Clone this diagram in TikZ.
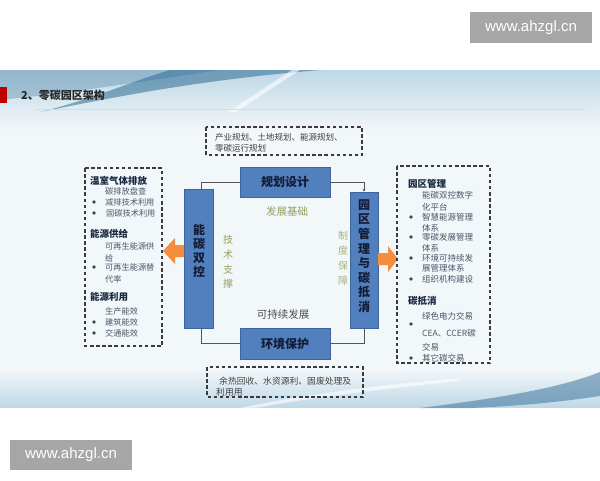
\documentclass[tikz,border=0pt]{standalone}
\usepackage{fontspec}
\setmainfont{Noto Sans CJK SC}
\newfontfamily\wmfont{Liberation Sans}
\usetikzlibrary{arrows.meta,fadings}
\definecolor{boxfill}{RGB}{82,127,190}
\definecolor{boxdraw}{RGB}{62,100,158}
\definecolor{boxtext}{RGB}{18,28,52}
\definecolor{olivec}{RGB}{150,158,92}
\definecolor{orng}{RGB}{244,142,62}
\definecolor{itemc}{RGB}{78,86,102}
\definecolor{headc}{RGB}{24,38,62}
\definecolor{dashc}{RGB}{58,58,64}
\definecolor{wmc}{RGB}{166,166,166}
\definecolor{slidebase}{RGB}{242,247,250}
\definecolor{bandlight}{RGB}{190,216,230}
\definecolor{banddark}{RGB}{48,108,150}
\definecolor{conn}{RGB}{85,85,90}
\tikzfading[name=fadedown,top color=transparent!0,bottom color=transparent!100]
\tikzfading[name=fadeup,top color=transparent!100,bottom color=transparent!0]
\tikzfading[name=faderight,left color=transparent!0,right color=transparent!100]
\begin{document}
\begin{tikzpicture}[x=1pt,y=-1pt,
  mainbox/.style={draw=boxdraw,fill=boxfill,text=boxtext,inner sep=0pt,line width=0.6pt,
    font=\bfseries\fontsize{12}{14}\selectfont},
  vtext/.style={text=boxtext,align=center,inner sep=0pt},
  olab/.style={text=olivec,inner sep=0pt,font=\fontsize{10.5}{12}\selectfont},
  dbox/.style={draw=dashc,line width=1.1pt,dash pattern=on 3.5pt off 2.6pt},
  ltxt/.style={anchor=west,inner sep=0pt,text=itemc,font=\fontsize{8.2}{9}\selectfont},
  rtxt/.style={anchor=west,inner sep=0pt,text=itemc,font=\fontsize{8.5}{10}\selectfont},
  ttxt/.style={anchor=west,inner sep=0pt,text=black!75,font=\fontsize{8.5}{9}\selectfont},
  hd/.style={anchor=west,inner sep=0pt,text=headc,font=\bfseries\fontsize{9.5}{11}\selectfont},
  dot/.style={fill=headc!85},
  connline/.style={draw=conn,line width=0.8pt},
  wmbox/.style={fill=wmc,text=white,inner sep=0pt,font=\wmfont\fontsize{15}{17}\selectfont}
]
\useasboundingbox (0,0) rectangle (600,480);
\fill[white] (0,0) rectangle (600,480);
% slide background
\fill[slidebase] (0,70) rectangle (600,408);
\fill[bandlight,path fading=fadedown] (0,70) rectangle (600,130);
\fill[banddark,opacity=0.55] (40,112) .. controls (120,96) and (200,80) .. (320,70) -- (170,70) .. controls (130,82) and (90,100) .. (40,112) -- cycle;
\fill[banddark,opacity=0.3] (0,100) .. controls (80,92) and (150,80) .. (220,70) -- (0,70) -- cycle;
\fill[white,opacity=0.6] (228,112) -- (292,70) -- (300,70) -- (236,112) -- cycle;
\fill[bandlight,path fading=fadeup] (0,370) rectangle (600,408);
\fill[banddark,opacity=0.5] (420,408) .. controls (500,398) and (560,388) .. (600,372) -- (600,396) .. controls (560,402) and (520,406) .. (470,408) -- cycle;
\fill[white,opacity=0.6] (240,408) .. controls (300,395) and (380,385) .. (460,378) -- (460,381) .. controls (380,389) and (310,398) .. (255,408) -- cycle;
% title
\fill[red!75!black] (0,87) rectangle (7,103);
\node[anchor=west,inner sep=0pt,text=black!85,font=\bfseries\fontsize{11}{13}\selectfont] (title) at (21,95) {2、零碳园区架构};
\draw[white!70!gray,line width=0.6pt] (35,109) -- (585,109);
% main boxes
\node[mainbox,minimum width=90pt,minimum height=30pt] (gh) at (285,182) {规划设计};
\node[mainbox,minimum width=90pt,minimum height=31pt] (hj) at (285,343.5) {环境保护};
\node[mainbox,minimum width=29pt,minimum height=139pt] (nt) at (198.5,258.5) {};
\node[mainbox,minimum width=28pt,minimum height=136pt] (yq) at (364,260) {};
\node[vtext,font=\bfseries\fontsize{12}{14.2}\selectfont] (ntt) at (199,251) {能\\碳\\双\\控};
\node[vtext,font=\bfseries\fontsize{12}{14.6}\selectfont] (yqt) at (364,256) {园\\区\\管\\理\\与\\碳\\抵\\消};
% connectors
\draw[connline] (gh.west) -| ([xshift=2.5pt]nt.north);
\draw[connline,-{Stealth[length=3pt,width=3pt]}] (gh.east) -| (yq.north);
\draw[connline] ([xshift=2.5pt]nt.south) |- (hj.west);
\draw[connline] (yq.south) |- (hj.east);
% labels
\node[olab] (fz) at (287,211) {发展基础};
\node[olab,align=center,font=\fontsize{10}{14.7}\selectfont] (js) at (228,262) {技\\术\\支\\撑};
\node[olab,align=center,text=olivec!80,font=\fontsize{10}{15}\selectfont] (zd) at (343,258) {制\\度\\保\\障};
\node[inner sep=0pt,text=black!70,font=\fontsize{10.5}{12}\selectfont] (kc) at (283,314) {可持续发展};
% orange arrows
\fill[orng] (163,251) -- (175,238) -- (175,245) -- (184,245) -- (184,257) -- (175,257) -- (175,264) -- cycle;
\fill[orng] (378,253) -- (388,253) -- (388,246) -- (398,259) -- (388,272) -- (388,265) -- (378,265) -- cycle;
% top dashed box
\draw[dbox] (206,127) rectangle (362,155);
\node[ttxt] (t1) at (215,137) {产业规划、土地规划、能源规划、};
\node[ttxt] (t2) at (215,148) {零碳运行规划};
% bottom dashed box
\draw[dbox] (207,367) rectangle (363,397);
\node[ttxt,font=\fontsize{8.8}{9}\selectfont] (b1) at (219,381.5) {余热回收、水资源利、固废处理及};
\node[ttxt,font=\fontsize{8.8}{9}\selectfont] (b2) at (216,392) {利用用};
% left dashed box
\draw[dbox] (85,168) rectangle (162,346);
\node[hd] (l1) at (90,181) {温室气体排放};
\node[ltxt] (l2) at (105,191.5) {碳排放盘查};
\node[ltxt] (l3) at (105,202) {减排技术利用};
\fill[dot] (94,202) circle (1.8);
\fill[dot] (94,213) circle (1.8);
\node[ltxt] (l4) at (106,213) {固碳技术利用};
\node[hd] (l5) at (90,234) {能源供给};
\node[ltxt] (l6) at (105,246) {可再生能源供};
\node[ltxt] (l7) at (105,258) {给};
\fill[dot] (94,267) circle (1.8);
\node[ltxt] (l8) at (105,267) {可再生能源替};
\node[ltxt] (l9) at (105,279) {代率};
\node[hd] (l10) at (90,297) {能源利用};
\node[ltxt] (l11) at (105,311) {生产能效};
\node[ltxt] (l12) at (105,322) {建筑能效};
\fill[dot] (94,322) circle (1.8);
\fill[dot] (94,333) circle (1.8);
\node[ltxt] (l13) at (105,333) {交通能效};
% right dashed box
\draw[dbox] (397,166) rectangle (490,363);
\node[hd] (r1) at (408,184) {园区管理};
\node[rtxt] (r2) at (422,195) {能碳双控数字};
\node[rtxt] (r3) at (422,207) {化平台};
\fill[dot] (411,217) circle (1.9);
\node[rtxt] (r4) at (422,217) {智慧能源管理};
\node[rtxt] (r5) at (422,228) {体系};
\fill[dot] (411,237) circle (1.9);
\node[rtxt] (r6) at (422,237) {零碳发展管理};
\node[rtxt] (r7) at (422,248) {体系};
\fill[dot] (411,258) circle (1.9);
\node[rtxt] (r8) at (422,258) {环境可持续发};
\node[rtxt] (r9) at (422,268.5) {展管理体系};
\fill[dot] (411,279) circle (1.9);
\node[rtxt] (r10) at (422,279) {组织机构建设};
\node[hd] (r11) at (408,301) {碳抵消};
\node[rtxt] (r12) at (422,316) {绿色电力交易};
\fill[dot] (411,324) circle (1.9);
\node[rtxt] (r13) at (422,333) {CEA、CCER碳};
\node[rtxt] (r14) at (422,347) {交易};
\fill[dot] (411,358) circle (1.9);
\node[rtxt] (r15) at (422,358) {其它碳交易};
% watermarks
\node[wmbox,minimum width=122pt,minimum height=31pt] (wm1) at (531,27.5) {www.ahzgl.cn};
\node[wmbox,minimum width=122pt,minimum height=30pt] (wm2) at (71,455) {www.ahzgl.cn};
\end{tikzpicture}
\end{document}
